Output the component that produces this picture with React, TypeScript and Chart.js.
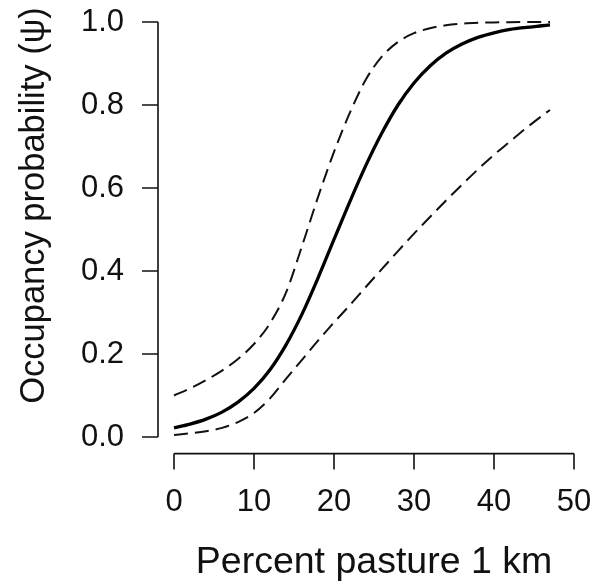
import React, { useEffect, useRef } from "react";
import { Chart, registerables } from "chart.js";

Chart.register(...registerables);

// ---- data ----
const pasturePct = [0, 2, 4, 6, 8, 10, 12, 14, 16, 18, 20, 22, 24, 26, 28, 30, 32, 34, 36, 38, 40, 42, 44, 46, 47];
const psiFit = [0.022, 0.031, 0.043, 0.06, 0.084, 0.117, 0.162, 0.222, 0.296, 0.383, 0.476, 0.568, 0.655, 0.733, 0.8, 0.853, 0.894, 0.925, 0.947, 0.963, 0.974, 0.982, 0.987, 0.991, 0.993];
const psiUpper = [0.1, 0.117, 0.137, 0.16, 0.188, 0.224, 0.274, 0.348, 0.46, 0.578, 0.687, 0.782, 0.862, 0.917, 0.952, 0.973, 0.985, 0.992, 0.996, 0.998, 0.999, 0.9995, 0.9998, 1.0, 1.0];
const psiLower = [0.005, 0.009, 0.014, 0.022, 0.036, 0.058, 0.093, 0.14, 0.186, 0.232, 0.276, 0.318, 0.362, 0.405, 0.448, 0.49, 0.53, 0.57, 0.608, 0.645, 0.68, 0.712, 0.744, 0.774, 0.788];

const xTicks = [0, 10, 20, 30, 40, 50];
const yTicks = [0, 0.2, 0.4, 0.6, 0.8, 1.0];
const xRange = [-2, 52];
const yRange = [-0.04, 1.04];
const xTitle = "Percent pasture 1 km";
const yTitle = "Occupancy probability (\u03c8)";

const FONT = "'Liberation Sans', Arial, Helvetica, sans-serif";
const INK = "#111";

const toPoints = (ys: number[]) => pasturePct.map((x, i) => ({ x, y: ys[i] }));

const rAxesPlugin = {
  id: "rAxes",
  afterDraw(chart: any) {
    const { ctx, scales } = chart;
    const xs = scales.x;
    const ys = scales.y;
    const axisX = xs.getPixelForValue(xRange[0]);
    const axisY = ys.getPixelForValue(yRange[0]);
    const tickLen = 16;
    ctx.save();
    ctx.strokeStyle = INK;
    ctx.lineWidth = 1.6;
    ctx.lineCap = "butt";
    ctx.beginPath();
    ctx.moveTo(axisX, ys.getPixelForValue(yTicks[0]));
    ctx.lineTo(axisX, ys.getPixelForValue(yTicks[yTicks.length - 1]));
    yTicks.forEach((v) => {
      const p = ys.getPixelForValue(v);
      ctx.moveTo(axisX, p);
      ctx.lineTo(axisX - tickLen, p);
    });
    ctx.moveTo(xs.getPixelForValue(xTicks[0]), axisY);
    ctx.lineTo(xs.getPixelForValue(xTicks[xTicks.length - 1]), axisY);
    xTicks.forEach((v) => {
      const p = xs.getPixelForValue(v);
      ctx.moveTo(p, axisY);
      ctx.lineTo(p, axisY + tickLen);
    });
    ctx.stroke();
    ctx.restore();
  },
};

export default function App() {
  const canvasRef = useRef<HTMLCanvasElement | null>(null);

  useEffect(() => {
    if (!canvasRef.current) return;
    const chart = new Chart(canvasRef.current, {
      type: "line",
      data: {
        datasets: [
          {
            label: "upper",
            data: toPoints(psiUpper),
            borderColor: INK,
            borderWidth: 2,
            borderDash: [14, 7],
            pointRadius: 0,
            cubicInterpolationMode: "monotone",
            fill: false,
          },
          {
            label: "lower",
            data: toPoints(psiLower),
            borderColor: INK,
            borderWidth: 2,
            borderDash: [14, 7],
            pointRadius: 0,
            cubicInterpolationMode: "monotone",
            fill: false,
          },
          {
            label: "fitted",
            data: toPoints(psiFit),
            borderColor: "#000",
            borderWidth: 3.3,
            pointRadius: 0,
            cubicInterpolationMode: "monotone",
            fill: false,
          },
        ],
      },
      options: {
        responsive: false,
        animation: false,
        events: [],
        layout: { padding: { left: 0, right: 12, top: 5.4, bottom: 0 } },
        plugins: {
          legend: { display: false },
          tooltip: { enabled: false },
          title: { display: false },
        },
        scales: {
          x: {
            type: "linear",
            min: xRange[0],
            max: xRange[1],
            grid: { display: false, drawTicks: false },
            border: { display: false },
            ticks: {
              autoSkip: false,
              maxRotation: 0,
              minRotation: 0,
              padding: 30,
              color: INK,
              font: { family: FONT, size: 31 },
              callback: (v: any) => String(v),
            },
            afterBuildTicks: (s: any) => {
              s.ticks = xTicks.map((v) => ({ value: v }));
            },
            afterFit: (s: any) => {
              s.height = 133.4;
              s.paddingLeft = 0;
              s.paddingRight = 0;
            },
            title: {
              display: true,
              text: xTitle,
              color: INK,
              font: { family: FONT, size: 37.5 },
              padding: { top: 0, bottom: 2 },
            },
          },
          y: {
            type: "linear",
            min: yRange[0],
            max: yRange[1],
            grid: { display: false, drawTicks: false },
            border: { display: false },
            ticks: {
              autoSkip: false,
              padding: 34,
              color: INK,
              font: { family: FONT, size: 31 },
              callback: (v: any) => Number(v).toFixed(1),
            },
            afterBuildTicks: (s: any) => {
              s.ticks = yTicks.map((v) => ({ value: v }));
            },
            afterFit: (s: any) => {
              s.width = 158;
              s.paddingTop = 0;
              s.paddingBottom = 0;
            },
            title: {
              display: true,
              text: "     " + yTitle,
              color: INK,
              font: { family: FONT, size: 34.5 },
              padding: { top: 14, bottom: 0 },
            },
          },
        },
      },
      plugins: [rAxesPlugin],
    });
    return () => chart.destroy();
  }, []);

  return (
    <div style={{ position: "absolute", left: 0, top: 0, width: 602, height: 587, background: "#fff" }}>
      <canvas ref={canvasRef} width={602} height={587} style={{ display: "block" }} />
    </div>
  );
}
